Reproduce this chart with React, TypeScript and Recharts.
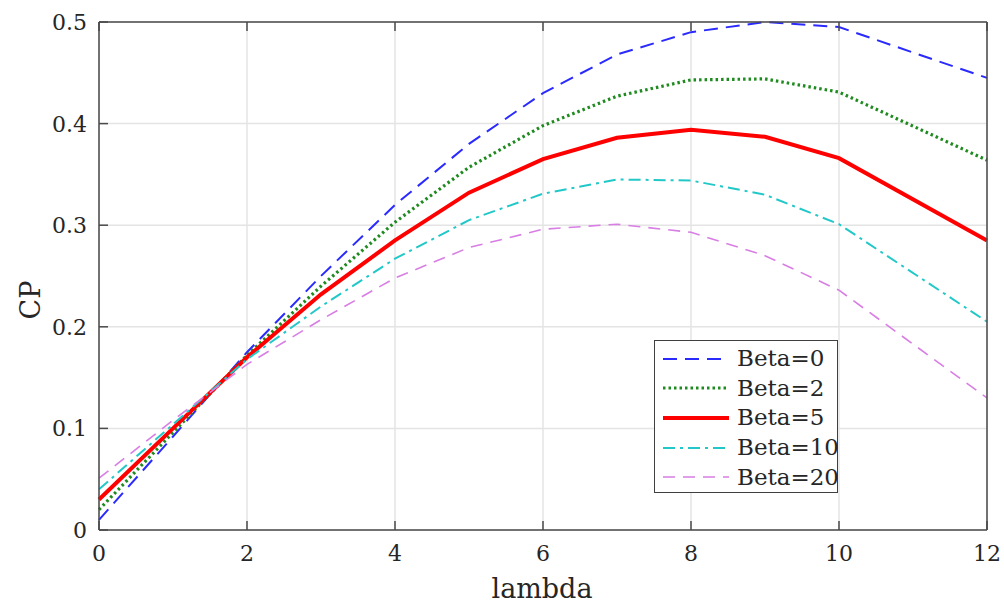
import { LineChart, Line, XAxis, YAxis, CartesianGrid, Label } from "recharts";

// lambda values (x) and CP curves for each pitch angle
const lambda = [0, 1, 2, 3, 4, 5, 6, 7, 8, 9, 10, 12];
const beta0 = [0.01, 0.092, 0.175, 0.25, 0.32, 0.38, 0.43, 0.468, 0.49, 0.5, 0.495, 0.445];
const beta2 = [0.02, 0.096, 0.172, 0.24, 0.303, 0.357, 0.398, 0.427, 0.443, 0.444, 0.431, 0.364];
const beta5 = [0.03, 0.1, 0.17, 0.232, 0.285, 0.332, 0.365, 0.386, 0.394, 0.387, 0.366, 0.285];
const beta10 = [0.04, 0.104, 0.168, 0.22, 0.267, 0.305, 0.331, 0.345, 0.344, 0.33, 0.301, 0.205];
const beta20 = [0.051, 0.108, 0.163, 0.207, 0.248, 0.278, 0.296, 0.301, 0.293, 0.27, 0.236, 0.13];

const xTicks = [0, 2, 4, 6, 8, 10, 12];
const yTicks = [0, 0.1, 0.2, 0.3, 0.4, 0.5];

const data = lambda.map((l, i) => ({
  lambda: l,
  b0: beta0[i],
  b2: beta2[i],
  b5: beta5[i],
  b10: beta10[i],
  b20: beta20[i],
}));

const series = [
  { key: "b0", name: "Beta=0", color: "#2a2aff", width: 2, dash: "14 8" },
  { key: "b2", name: "Beta=2", color: "#1f8a1f", width: 3.2, dash: "2.5 3" },
  { key: "b5", name: "Beta=5", color: "#ff0000", width: 4, dash: undefined },
  { key: "b10", name: "Beta=10", color: "#22c8c8", width: 2, dash: "12 5 3 5" },
  { key: "b20", name: "Beta=20", color: "#d87ee4", width: 1.6, dash: "12 8" },
];

const FONT = "'DejaVu Serif', serif";
const INK = "#262626";
const FRAME = "#4a4a4a";

const LeftTick = ({ x, y, payload }: any) => (
  <g>
    <line x1={x + 12} x2={x + 21} y1={y} y2={y} stroke={FRAME} strokeWidth={1.5} />
    <text x={x} y={y} dy={8} textAnchor="end" fontSize={22} fontFamily={FONT} fill={INK}>
      {payload.value}
    </text>
  </g>
);

const BottomTick = ({ x, y, payload }: any) => (
  <g>
    <line x1={x} x2={x} y1={y - 10} y2={y - 19} stroke={FRAME} strokeWidth={1.5} />
    <text x={x} y={y} dy={21} textAnchor="middle" fontSize={22} fontFamily={FONT} fill={INK}>
      {payload.value}
    </text>
  </g>
);

// top / right axes only carry the inward tick marks of the box
const TopTick = ({ x, y }: any) => (
  <line x1={x} x2={x} y1={y} y2={y + 9} stroke={FRAME} strokeWidth={1.5} />
);

const RightTick = ({ x, y }: any) => (
  <line x1={x} x2={x - 9} y1={y} y2={y} stroke={FRAME} strokeWidth={1.5} />
);

export default function App() {
  return (
    <div style={{ position: "relative", width: 1004, height: 606, overflow: "hidden" }}>
      <style>{"html, body { margin: 0; overflow: hidden; }"}</style>
      <LineChart
        width={1004}
        height={606}
        data={data}
        margin={{ top: 21, right: 16, bottom: 0, left: 0 }}
        style={{ display: "block" }}
      >
        <CartesianGrid stroke="#e4e4e4" strokeWidth={1.5} />
        <XAxis
          dataKey="lambda"
          type="number"
          domain={[0, 12]}
          ticks={xTicks}
          height={76}
          tickSize={0}
          tickMargin={10}
          tick={<BottomTick />}
          axisLine={{ stroke: FRAME, strokeWidth: 1.5 }}
        >
          <Label
            content={() => (
              <text x={542} y={598} textAnchor="middle" fontSize={27} fontFamily={FONT} fill={INK}>
                lambda
              </text>
            )}
          />
        </XAxis>
        <XAxis
          xAxisId="top"
          orientation="top"
          dataKey="lambda"
          type="number"
          domain={[0, 12]}
          ticks={xTicks}
          height={1}
          tickSize={0}
          tickMargin={0}
          tick={<TopTick />}
          axisLine={{ stroke: FRAME, strokeWidth: 1.5 }}
        />
        <YAxis
          domain={[0, 0.5]}
          ticks={yTicks}
          width={99}
          tickSize={0}
          tickMargin={12}
          tick={<LeftTick />}
          axisLine={{ stroke: FRAME, strokeWidth: 1.5 }}
        >
          <Label
            content={() => (
              <text
                x={0}
                y={0}
                transform="translate(40 300) rotate(-90)"
                textAnchor="middle"
                fontSize={27}
                fontFamily={FONT}
                fill={INK}
              >
                CP
              </text>
            )}
          />
        </YAxis>
        <YAxis
          yAxisId="right"
          orientation="right"
          domain={[0, 0.5]}
          ticks={yTicks}
          width={1}
          tickSize={0}
          tickMargin={0}
          tick={<RightTick />}
          axisLine={{ stroke: FRAME, strokeWidth: 1.5 }}
        />
        {series.map((s) => (
          <Line
            key={s.key}
            dataKey={s.key}
            name={s.name}
            type="linear"
            stroke={s.color}
            strokeWidth={s.width}
            strokeDasharray={s.dash}
            dot={false}
            activeDot={false}
            isAnimationActive={false}
          />
        ))}
      </LineChart>
      <div
        style={{
          position: "absolute",
          left: 654,
          top: 340,
          width: 184,
          height: 153,
          boxSizing: "border-box",
          border: "1.5px solid #404040",
          background: "#fff",
          paddingTop: 3,
        }}
      >
        {series.map((s) => (
          <div key={s.key} style={{ display: "flex", alignItems: "center", height: 29.6 }}>
            <svg width={76} height={12} style={{ marginLeft: 6, flex: "none" }}>
              <line
                x1={2}
                x2={68}
                y1={6}
                y2={6}
                stroke={s.color}
                strokeWidth={s.width}
                strokeDasharray={s.dash}
              />
            </svg>
            <span style={{ fontFamily: FONT, fontSize: 23, color: INK, lineHeight: "29px" }}>
              {s.name}
            </span>
          </div>
        ))}
      </div>
    </div>
  );
}
